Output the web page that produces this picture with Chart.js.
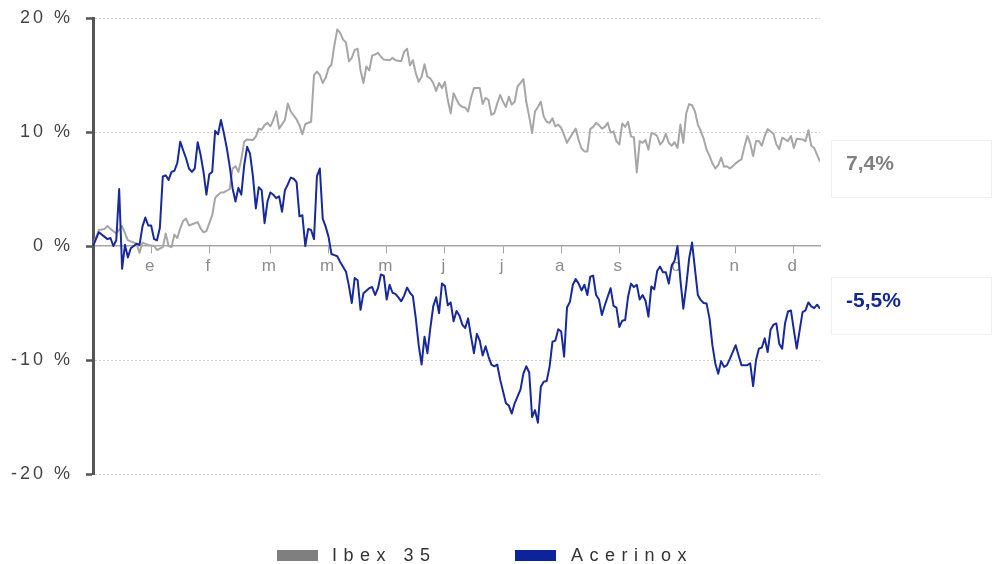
<!DOCTYPE html>
<html><head><meta charset="utf-8">
<script src="https://cdn.jsdelivr.net/npm/chart.js@4/dist/chart.umd.min.js"></script>
<style>html,body{margin:0;padding:0;background:#fff}</style>
</head><body>
<canvas id="c" width="996" height="564"></canvas>
<script>
const seriesNames = ['Ibex 35', 'Acerinox'];
const monthLabels = ['e','f','m','m','m','j','j','a','s','o','n','d'];
const monthDays = [20,40,61,81,101,121,141,161,181,201,221,241];
const yTicks = [-20,-10,0,10,20];
const endLabels = ['7,4%','-5,5%'];

const ibexDays = [0,2,4,5,6,8,10,12,13,15,16,17,19,21,22,24,25,26,27,28,29,30,31,32,33,35,36,37,38,39,41,42,43,44,45,47,48,49,50,51,52,53,55,56,57,58,59,60,61,62,63,64,66,67,68,70,71,72,73,75,76,77,78,79,80,81,82,83,84,85,86,87,88,89,90,91,92,93,94,95,96,97,98,99,100,102,103,104,106,107,108,109,110,111,112,113,114,115,116,117,118,119,120,121,122,123,124,125,126,127,128,129,130,131,132,133,134,135,136,137,138,139,140,141,142,143,144,145,146,147,148,149,150,151,152,153,154,155,156,157,158,159,160,161,162,163,164,165,166,167,168,169,170,171,172,173,174,175,176,177,178,179,180,181,182,183,184,185,186,187,188,189,190,191,192,193,194,195,196,197,198,199,200,201,202,203,204,205,206,207,208,209,210,211,212,213,214,215,216,217,218,219,220,221,222,223,224,225,226,227,228,229,230,231,232,233,234,235,236,237,238,239,240,241,242,244,245,246,247,248,249,250];
const ibexValues = [0,1.4,1.5,1.75,1.5,1.1,1.75,0.5,0.4,0.2,-0.6,0.3,0.1,0.0,-0.35,-0.1,1.1,0.0,-0.1,1.0,0.7,1.55,2.2,2.4,1.8,2.0,2.1,1.55,1.2,1.3,2.7,4.2,4.5,4.7,4.7,5.0,6.8,7.0,6.5,7.6,9.15,9.35,9.3,9.6,10.3,10.2,10.6,10.8,10.5,11.05,11.8,10.3,11.05,12.5,11.8,11.1,10.6,9.8,10.7,10.9,15.0,15.3,15.0,14.3,14.75,15.6,15.9,17.6,19.0,18.7,18.1,17.85,16.2,16.5,17.2,17.3,15.4,14.3,15.75,15.4,16.7,16.8,16.95,16.6,16.35,16.3,16.5,16.3,16.2,17.05,17.3,15.85,16.3,15.15,14.4,14.85,15.95,14.85,14.7,14.3,13.6,14.3,13.85,14.4,12.8,11.65,13.4,12.85,12.4,12.2,12.15,11.8,13.0,13.85,13.85,13.85,12.45,13.0,12.8,11.5,11.65,12.5,13.25,12.65,12.2,13.1,12.4,12.65,14.0,14.3,14.65,12.65,11.35,9.9,11.8,12.2,12.65,11.35,10.9,10.8,11.2,10.5,10.65,10.35,9.75,9.05,9.5,9.9,10.3,9.3,8.55,8.3,8.3,10.25,10.45,10.8,10.6,10.3,10.45,10.8,9.95,10.05,9.2,8.9,10.75,10.45,10.9,9.6,9.55,6.45,9.2,9.05,9.3,8.45,9.9,9.85,9.65,8.9,9.2,9.85,9.05,8.8,9.1,8.6,10.65,9.05,11.65,12.45,12.35,11.8,10.65,10.1,9.4,8.45,7.9,7.25,6.8,7.1,7.75,6.95,7.0,6.8,7.0,7.25,7.45,7.6,8.7,9.65,9.0,7.9,9.2,9.2,8.8,9.65,10.25,10.05,9.85,8.9,8.5,9.5,9.35,9.2,9.65,8.6,9.4,9.35,9.2,10.15,8.8,8.6,8.0,7.4];

const acxDays = [0,2,4,5,6,7,8,9,10,11,12,13,15,16,17,18,19,20,21,22,23,24,25,26,27,28,29,30,31,32,33,34,35,36,37,38,39,40,41,42,43,44,45,46,47,48,49,50,51,52,53,54,55,56,57,58,59,60,61,62,63,64,65,66,67,68,69,70,71,72,73,74,75,76,77,78,79,80,81,82,83,84,85,87,88,89,90,91,92,93,95,96,97,98,99,100,101,102,103,104,105,106,107,108,109,110,111,112,113,114,115,116,117,118,119,120,121,122,123,124,125,126,127,128,129,130,131,132,133,134,135,136,137,138,139,140,142,143,144,145,147,148,149,150,151,152,153,154,155,156,157,158,159,160,161,162,163,164,165,166,167,168,169,170,171,172,173,174,175,176,177,178,179,180,181,182,183,184,185,186,187,188,189,190,191,192,193,194,195,196,197,198,199,200,201,202,203,204,205,206,207,208,209,210,211,212,213,214,215,216,217,218,219,221,222,223,225,226,227,228,229,230,231,232,233,234,235,236,237,238,239,240,241,242,243,244,245,246,247,248,249,250];
const acxValues = [0,1.2,0.8,0.6,0.7,0.0,0.5,5.0,-2.0,0.1,-1.0,-0.2,0.2,0.1,1.7,2.5,1.8,1.8,0.6,0.5,1.6,6.1,6.2,5.8,6.5,6.6,7.3,9.15,8.4,7.7,6.8,6.5,6.8,9.1,8.0,6.5,4.5,6.3,6.5,10.1,9.8,11.05,9.9,8.6,7.0,5.05,3.9,5.1,4.5,7.1,8.7,8.1,6.1,3.3,5.15,4.9,2.0,3.9,4.7,4.5,4.2,4.35,3.0,4.9,5.4,6.0,5.9,5.6,2.6,2.7,0.0,1.5,1.4,0.6,6.1,6.8,2.4,1.7,0.8,-0.7,-0.8,-0.9,-1.4,-2.25,-3.5,-5.0,-2.8,-3.0,-5.6,-4.15,-3.7,-3.6,-4.3,-3.7,-2.5,-2.6,-4.7,-3.4,-4.1,-4.2,-4.5,-4.85,-4.35,-3.65,-4.1,-4.4,-6.35,-8.7,-10.4,-7.95,-9.4,-7.2,-5.3,-4.5,-5.9,-3.3,-3.5,-5.2,-4.95,-6.6,-5.7,-6.1,-6.9,-7.2,-6.35,-7.95,-9.4,-7.7,-8.3,-9.6,-8.8,-9.7,-10.4,-10.55,-10.4,-11.7,-13.8,-14.0,-14.7,-13.8,-12.6,-11.2,-10.55,-11.1,-15.0,-14.4,-15.5,-12.35,-11.9,-11.85,-10.6,-8.4,-8.3,-7.3,-7.5,-9.7,-5.4,-4.9,-3.4,-2.9,-3.3,-3.9,-3.4,-4.3,-2.7,-2.6,-4.3,-4.7,-6.05,-5.2,-4.45,-3.7,-5.25,-5.4,-7.1,-6.55,-6.5,-4.45,-3.3,-3.6,-3.4,-4.7,-4.3,-4.8,-6.2,-3.55,-3.8,-2.2,-1.8,-2.3,-2.3,-3.3,-1.7,-1.3,0.0,-3.0,-5.5,-3.5,-1.1,0.3,-2.0,-4.3,-4.75,-5.0,-5.05,-6.35,-8.7,-10.3,-11.2,-10.1,-10.6,-10.45,-9.9,-8.7,-9.6,-10.45,-10.45,-10.3,-12.3,-10.0,-9.0,-8.9,-8.1,-9.3,-7.35,-6.9,-6.8,-8.6,-9.0,-6.75,-5.75,-5.65,-7.35,-9.0,-7.4,-5.8,-5.65,-4.95,-5.3,-5.45,-5.15,-5.5];

const FONT = "'Liberation Sans', Arial, sans-serif";
const lineColors = ['#a6a6a6', '#18299a'];
const legendColors = ['#7f7f7f', '#0c2399'];
const endTextColors = ['#808080', '#15278f'];

function pairs(days, vals) { return days.map((d, i) => ({x: d, y: vals[i]})); }

const spacing = {
  id: 'spacing',
  beforeDraw(chart) { chart.ctx.letterSpacing = '3px'; },
  beforeDatasetsDraw(chart) { chart.ctx.letterSpacing = '0px'; }
};

const decor = {
  id: 'decor',
  afterDraw(chart) {
    const ctx = chart.ctx;
    const ys = chart.scales.y;
    const series = [ibexValues, acxValues];
    const boxShift = [-22, -32];
    ctx.save();
    ctx.letterSpacing = '0px';
    series.forEach((vals, i) => {
      const py = ys.getPixelForValue(vals[vals.length - 1]);
      const top = Math.round(py + boxShift[i]) + 0.5;
      ctx.strokeStyle = '#f0f0f0';
      ctx.lineWidth = 1;
      ctx.strokeRect(831.5, top, 160, 57);
      ctx.fillStyle = endTextColors[i];
      ctx.font = 'bold 21px ' + FONT;
      ctx.textAlign = 'left';
      ctx.textBaseline = 'middle';
      ctx.fillText(endLabels[i], 846, top + 24);
    });
    const items = [{x: 277, tx: 332}, {x: 515, tx: 571}];
    items.forEach((it, i) => {
      ctx.fillStyle = legendColors[i];
      ctx.fillRect(it.x, 550, 41, 11);
      ctx.fillStyle = '#333333';
      ctx.font = '18px ' + FONT;
      ctx.textAlign = 'left';
      ctx.textBaseline = 'alphabetic';
      ctx.letterSpacing = '6.5px';
      ctx.fillText(seriesNames[i], it.tx, 561);
      ctx.letterSpacing = '0px';
    });
    ctx.restore();
  }
};

new Chart(document.getElementById('c'), {
  type: 'line',
  data: {
    datasets: [
      {label: seriesNames[0], data: pairs(ibexDays, ibexValues), borderColor: lineColors[0], borderWidth: 2, pointRadius: 0, order: 1},
      {label: seriesNames[1], data: pairs(acxDays, acxValues), borderColor: lineColors[1], borderWidth: 2, pointRadius: 0, order: 0}
    ]
  },
  options: {
    responsive: false,
    animation: false,
    devicePixelRatio: 1,
    layout: {padding: {left: 0, right: 176, top: 18, bottom: 90}},
    plugins: {legend: {display: false}, tooltip: {enabled: false}},
    elements: {line: {tension: 0, borderJoinStyle: 'round'}},
    scales: {
      x: {
        type: 'linear', min: 0, max: 250, position: {y: 0},
        afterBuildTicks: s => { s.ticks = monthDays.map(v => ({value: v})); },
        afterFit: s => { s.paddingLeft = 0; s.paddingRight = 0; },
        ticks: {autoSkip: false, maxRotation: 0, padding: 3, color: '#8c8c8c',
                font: {family: FONT, size: 17},
                callback: (v, i) => monthLabels[i]},
        grid: {drawOnChartArea: false, drawTicks: true, tickLength: 7, tickColor: '#a6a6a6', tickWidth: 1},
        border: {color: '#a6a6a6', width: 1.5}
      },
      y: {
        min: -20, max: 20,
        afterBuildTicks: s => { s.ticks = yTicks.map(v => ({value: v})); },
        afterFit: s => { s.width = 93; s.paddingTop = 0; s.paddingBottom = 0; },
        ticks: {color: '#444444', padding: 13, font: {family: FONT, size: 18},
                callback: v => v + ' %'},
        grid: {color: c => (c.tick && c.tick.value === 0) ? 'rgba(0,0,0,0)' : '#cccccc',
               lineWidth: 1, tickLength: 7, tickColor: '#555555', tickWidth: 2.5},
        border: {color: '#555555', width: 3, dash: [2, 2]}
      }
    }
  },
  plugins: [spacing, decor]
});
</script>
</body></html>
